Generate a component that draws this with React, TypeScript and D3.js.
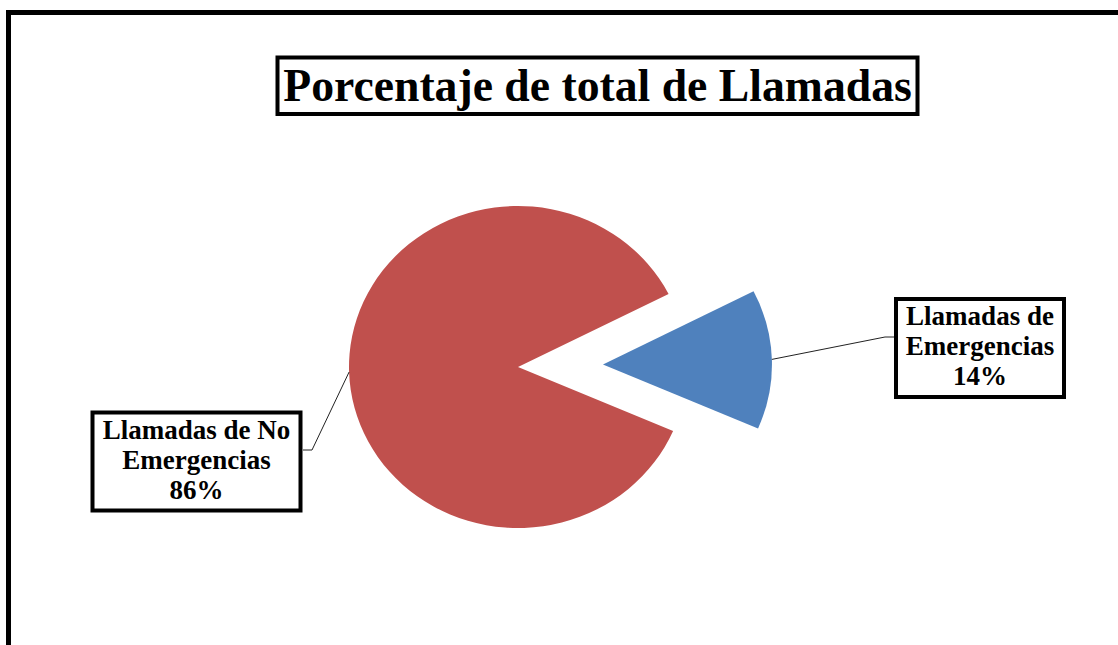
import React, { useEffect, useRef } from "react";
import * as d3 from "d3";

// data
const categories = ["Llamadas de Emergencias", "Llamadas de No Emergencias"];
const values = [14, 86];
const labelLines = [
  ["Llamadas de", "Emergencias"],
  ["Llamadas de No", "Emergencias"],
];
const title = "Porcentaje de total de Llamadas";

const colors = ["#4F81BD", "#C0504D"];
const explode = [85, 0];

const width = 1118;
const height = 645;
const cx = 518;
const cy = 367;
const rx = 169;
const ry = 161;
const startDeg = 63;
const font = "'Times New Roman', 'Liberation Serif', serif";

// label box layout
const boxes = [
  { x: 896, y: 299, w: 168, h: 98, elbowX: 885, elbowY: 337, edgeX: 894 },
  { x: 92.5, y: 412.5, w: 208, h: 98, elbowX: 312, elbowY: 450, edgeX: 303 },
];

const App = () => {
  const ref = useRef<SVGSVGElement>(null);

  useEffect(() => {
    const svg = d3.select(ref.current);
    svg.selectAll("*").remove();

    const k = ry / rx;
    const total = d3.sum(values);
    const pct = d3.format(".0%");
    const start = (startDeg * Math.PI) / 180;

    const pie = d3
      .pie<number>()
      .sort(null)
      .startAngle(start)
      .endAngle(start + 2 * Math.PI);
    const arcs = pie(values);
    const arc = d3.arc<d3.PieArcDatum<number>>().innerRadius(0).outerRadius(rx);

    // outer frame
    svg
      .append("rect")
      .attr("x", 8.5)
      .attr("y", 12.5)
      .attr("width", 1300)
      .attr("height", 800)
      .attr("fill", "#fff")
      .attr("stroke", "#000")
      .attr("stroke-width", 5);

    // title
    svg
      .append("rect")
      .attr("x", 277.5)
      .attr("y", 57.5)
      .attr("width", 640)
      .attr("height", 56.5)
      .attr("fill", "#fff")
      .attr("stroke", "#000")
      .attr("stroke-width", 4);

    svg
      .append("text")
      .attr("x", 597.5)
      .attr("y", 101)
      .attr("text-anchor", "middle")
      .attr("font-family", font)
      .attr("font-weight", "bold")
      .attr("font-size", 45.7)
      .attr("fill", "#000")
      .text(title);

    // slices
    const g = svg
      .append("g")
      .attr("transform", `translate(${cx},${cy}) scale(1,${k})`);

    g.selectAll("path")
      .data(arcs)
      .enter()
      .append("path")
      .attr("transform", (d, i) => {
        const mid = (d.startAngle + d.endAngle) / 2;
        return `translate(${explode[i] * Math.sin(mid)},${-explode[i] * Math.cos(mid)})`;
      })
      .attr("d", arc)
      .attr("fill", (d, i) => colors[i]);

    // leader lines + label boxes
    arcs.forEach((d, i) => {
      const mid = (d.startAngle + d.endAngle) / 2;
      const px = cx + (explode[i] + rx) * Math.sin(mid);
      const py = cy - (explode[i] + rx) * Math.cos(mid) * k;
      const b = boxes[i];

      svg
        .append("path")
        .attr(
          "d",
          d3.line()([
            [px, py],
            [b.elbowX, b.elbowY],
            [b.edgeX, b.elbowY],
          ])
        )
        .attr("fill", "none")
        .attr("stroke", "#222")
        .attr("stroke-width", 1);

      svg
        .append("rect")
        .attr("x", b.x)
        .attr("y", b.y)
        .attr("width", b.w)
        .attr("height", b.h)
        .attr("fill", "#fff")
        .attr("stroke", "#000")
        .attr("stroke-width", 4);

      const lines = [...labelLines[i], pct(values[i] / total)];
      const mx = b.x + b.w / 2;
      const my = b.y + b.h / 2 + 7;
      const t = svg
        .append("text")
        .attr("text-anchor", "middle")
        .attr("font-family", font)
        .attr("font-weight", "bold")
        .attr("font-size", 27)
        .attr("fill", "#000");
      lines.forEach((s, j) => {
        t.append("tspan")
          .attr("x", mx)
          .attr("y", my + (j - 1) * 30)
          .text(s);
      });
    });
  }, []);

  return (
    <svg
      ref={ref}
      width={width}
      height={height}
      style={{ position: "fixed", left: 0, top: 0, display: "block", background: "#fff" }}
      aria-label={categories.join(", ")}
    ></svg>
  );
};

export default App;
